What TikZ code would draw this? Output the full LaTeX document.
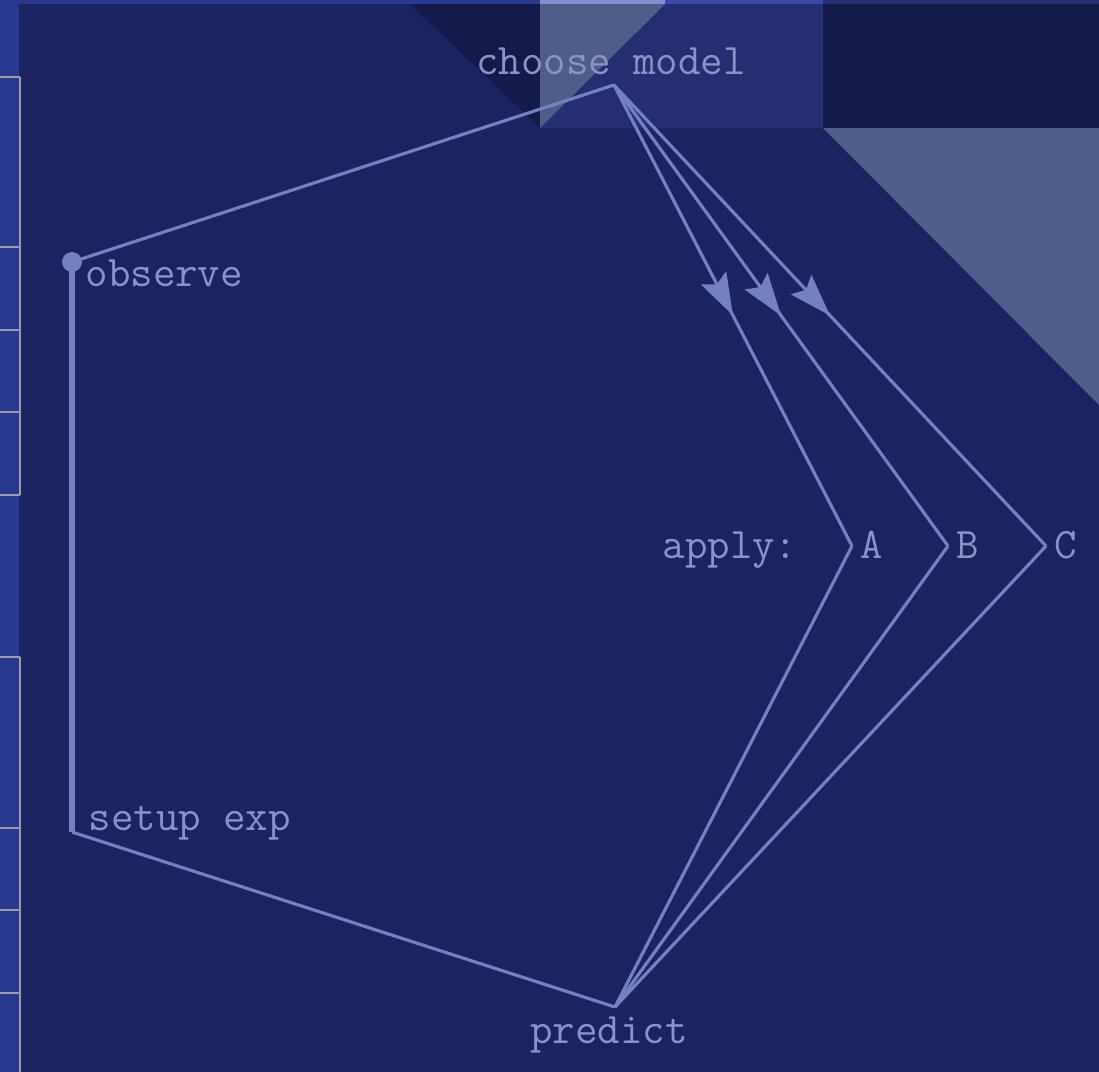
\documentclass[tikz,border=0pt]{standalone}
\usetikzlibrary{arrows.meta,decorations.markings}
\definecolor{bgnavy}{HTML}{1B2461}
\definecolor{stripblue}{HTML}{2A3990}
\definecolor{panelblue}{HTML}{242E70}
\definecolor{darkpanel}{HTML}{151C4B}
\definecolor{darktri}{HTML}{141A4A}
\definecolor{greytri}{HTML}{4F5E88}
\definecolor{toplight}{HTML}{8090D0}
\definecolor{topbright}{HTML}{3A48AA}
\definecolor{edgegrey}{HTML}{9A9CA6}
\definecolor{linecol}{HTML}{7580C2}
\definecolor{textcol}{HTML}{8A92C8}
\tikzset{
  conn/.style={draw=linecol, line width=0.9pt},
  thickconn/.style={draw=linecol, line width=1.6pt},
  midarrow/.style={postaction={decorate, decoration={markings,
      mark=at position 0.5 with {\arrow{Stealth[length=12pt,width=8pt,inset=2pt]}}}}},
  lbl/.style={text=textcol, inner sep=0pt, font=\ttfamily\fontsize{12.4}{14}\selectfont},
}
\begin{document}
\begin{tikzpicture}[x=0.01cm,y=-0.01cm]
\useasboundingbox (0,0) rectangle (1099,1072);
% background
\fill[bgnavy] (0,0) rectangle (1099,1072);
% left strip
\fill[stripblue] (0,0) rectangle (19,1072);
\foreach \yy in {77,247,330,412,495,657,828,910,993}
  \draw[edgegrey, line width=0.3pt] (0,\yy) -- (20,\yy);
\draw[edgegrey, line width=0.3pt] (20,77) -- (20,495);
\draw[edgegrey, line width=0.3pt] (20,657) -- (20,1072);
% top strip
\fill[stripblue] (0,0) rectangle (1099,4);
\fill[toplight] (540,0) rectangle (665,4);
\fill[topbright] (665,0) rectangle (823,4);
\fill[panelblue] (823,0) rectangle (1099,4);
% top panels
\fill[panelblue] (540,4) rectangle (823,128);
\fill[darkpanel] (823,4) rectangle (1099,128);
\fill[darktri] (410,4) -- (540,4) -- (540,128) -- cycle;
\fill[greytri] (540,4) -- (665,4) -- (540,128) -- cycle;
\fill[greytri] (823,128) -- (1099,128) -- (1099,405) -- cycle;

% points
\coordinate (cm) at (614,85);
\coordinate (ob) at (72,262);
\coordinate (se) at (72,832);
\coordinate (pr) at (615,1007);
\coordinate (pa) at (852,546);
\coordinate (pb) at (948,546);
\coordinate (pc) at (1046,546);

% labels
\node[lbl, anchor=base] (tcm) at (611,74) {choose model};
\node[lbl, anchor=base west] (tob) at (85,286) {observe};
\node[lbl, anchor=base west] (tse) at (88,830) {setup exp};
\node[lbl, anchor=base] (tpr) at (609,1043) {predict};
\node[lbl, anchor=base west] (tap) at (662,558) {apply:};
\node[lbl, anchor=base west] (ta) at (860,558) {A};
\node[lbl, anchor=base west] (tb) at (956,558) {B};
\node[lbl, anchor=base west] (tc) at (1054,558) {C};

% connectors
\draw[conn] (cm) -- (ob);
\draw[thickconn] (ob) -- (se);
\draw[conn] (se) -- (pr);
\draw[conn, midarrow] (cm) -- (pa);
\draw[conn, midarrow] (cm) -- (pb);
\draw[conn, midarrow] (cm) -- (pc);
\draw[conn] (pr) -- (pa);
\draw[conn] (pr) -- (pb);
\draw[conn] (pr) -- (pc);
\fill[linecol] (ob) circle (10);
\end{tikzpicture}
\end{document}
